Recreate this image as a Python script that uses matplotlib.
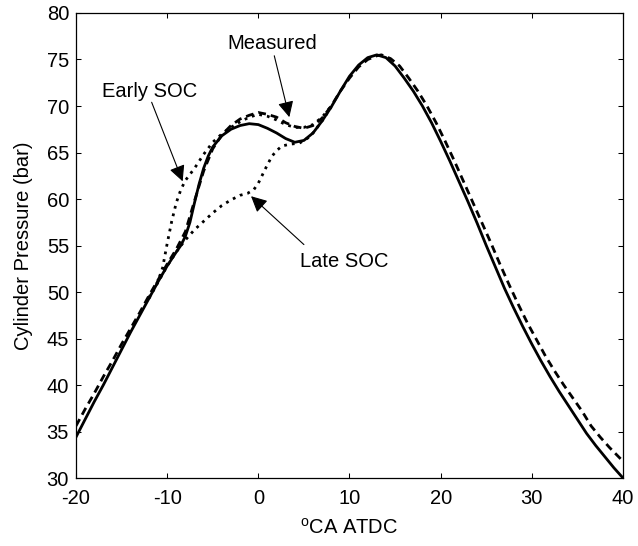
import matplotlib.pyplot as plt

plt.rcParams['font.family'] = ['Liberation Sans', 'DejaVu Sans']
plt.rcParams['mathtext.fontset'] = 'custom'
plt.rcParams['mathtext.rm'] = 'Liberation Sans'
plt.rcParams['axes.unicode_minus'] = False

# Model (solid)
ca_model = [-20, -19, -18, -17, -16, -15, -14, -13, -12, -11, -10, -9, -8.5, -8, -7.5, -7, -6.5, -6,
            -5.5, -5, -4, -3, -2, -1, 0, 1, 2, 3, 4, 5, 6, 7, 8, 9, 10, 11, 12, 13, 14, 15, 16, 17,
            18, 19, 20, 21, 22, 23, 24, 25, 26, 27, 28, 29, 30, 31, 32, 33, 34, 35, 36, 37, 38, 39, 40]
p_model = [34.4, 36.3, 38.2, 40.0, 41.9, 43.8, 45.7, 47.5, 49.3, 51.1, 52.8, 54.3, 55.0, 56.0, 57.5,
           59.6, 61.6, 63.3, 64.6, 65.6, 66.8, 67.5, 67.9, 68.1, 68.0, 67.6, 67.1, 66.5, 66.1, 66.3,
           67.1, 68.4, 69.9, 71.6, 73.2, 74.4, 75.2, 75.5, 75.2, 74.3, 73.0, 71.6, 70.0, 68.2, 66.2,
           64.1, 61.9, 59.7, 57.4, 55.0, 52.7, 50.4, 48.3, 46.3, 44.4, 42.6, 40.9, 39.3, 37.8, 36.3,
           34.8, 33.5, 32.3, 31.1, 30.0]

# Measured (dashed)
ca_meas = [-20, -19, -18, -17, -16, -15, -14, -13, -12, -11, -10, -9, -8, -7, -6, -5, -4, -3, -2,
           -1, 0, 1, 2, 3, 4, 5, 6, 7, 8, 9, 10, 11, 12, 13, 13.5, 14.5, 15.5, 16.5, 17.5, 18.5,
           19.5, 20.5, 21.5, 22.5, 23.5, 24.5, 25.5, 26.5, 27.5, 28.5, 29.5, 30.5, 31.5, 32.5,
           33.5, 34.5, 35.5, 36.5, 37.5, 38.5, 39.5, 40]
p_meas = [35.6, 37.4, 39.1, 40.9, 42.6, 44.4, 46.1, 47.8, 49.6, 51.3, 53.0, 54.6, 56.5, 59.8, 63.0,
          65.4, 66.9, 67.9, 68.6, 69.0, 69.3, 69.1, 68.8, 68.2, 67.8, 67.6, 67.9, 68.7, 70.0, 71.6,
          73.0, 74.2, 75.0, 75.4, 75.5, 75.1, 74.3, 73.0, 71.6, 70.0, 68.2, 66.2, 64.1, 61.9, 59.7,
          57.5, 55.3, 53.0, 50.8, 48.7, 46.7, 44.9, 43.1, 41.5, 40.0, 38.6, 37.2, 35.6, 34.4, 33.3,
          32.3, 31.8]

# Early SOC (dotted)
ca_early = [-12, -11, -10.5, -10, -9.5, -9, -8.5, -8, -7, -6, -5, -4, -3, -2, -1, 0, 1, 2, 3, 4,
            5, 6, 7, 8]
p_early = [49.4, 51.2, 52.6, 55.2, 57.6, 59.6, 61.0, 62.0, 63.3, 64.8, 66.1, 67.0, 67.7, 68.3,
           68.8, 69.1, 68.9, 68.5, 68.0, 67.7, 67.7, 68.0, 68.8, 70.0]

# Late SOC (dotted)
ca_late = [-12, -10, -9, -8.4, -8, -7, -6, -5, -4, -3, -2, -1.2, -0.5, 0, 0.5, 1, 1.5, 2, 2.6,
           3.5, 4.5, 5.5, 6, 7, 8]
p_late = [49.3, 52.8, 54.3, 55.1, 55.6, 56.7, 57.6, 58.5, 59.3, 59.9, 60.4, 60.6, 61.0, 61.7,
          62.7, 63.7, 64.6, 65.2, 65.7, 65.9, 66.0, 66.6, 67.1, 68.4, 69.9]

fig = plt.figure(figsize=(6.38, 5.46), dpi=100)
ax = fig.add_axes([0.1191, 0.1245, 0.8574, 0.8517])

ax.plot(ca_early, p_early, color='k', lw=2, linestyle=(0, (1, 1.8)))
ax.plot(ca_late, p_late, color='k', lw=2, linestyle=(0, (1, 1.8)))
ax.plot(ca_model, p_model, color='k', lw=2, linestyle='-')
ax.plot(ca_meas, p_meas, color='k', lw=2, linestyle=(0, (2.8, 1.8)))

ax.set_xlim(-20, 40)
ax.set_ylim(30, 80)
ax.set_xticks(range(-20, 41, 10))
ax.set_yticks(range(30, 81, 5))
ax.tick_params(direction='in', top=True, right=True, length=3.6, width=0.75, labelsize=14.5)
ax.tick_params(axis='x', pad=8)
ax.tick_params(axis='y', pad=5)
for s in ax.spines.values():
    s.set_linewidth(0.9)

ax.set_xlabel(r'$^{\mathrm{o}}$CA ATDC', fontsize=14.5, labelpad=7)
ax.set_ylabel('Cylinder Pressure (bar)', fontsize=14.5, labelpad=10)

arrow = dict(arrowstyle='-|>', mutation_scale=24, color='k', lw=0.8, shrinkA=0, shrinkB=0)
ax.text(1.5, 76.7, 'Measured', fontsize=14.5, ha='center', va='center')
ax.annotate('', xy=(3.4, 68.8), xytext=(1.75, 75.4), arrowprops=arrow)
ax.text(-11.9, 71.6, 'Early SOC', fontsize=14.5, ha='center', va='center')
ax.annotate('', xy=(-8.3, 61.9), xytext=(-11.7, 70.4), arrowprops=arrow)
ax.text(9.4, 53.3, 'Late SOC', fontsize=14.5, ha='center', va='center')
ax.annotate('', xy=(-0.8, 60.3), xytext=(5.0, 55.1), arrowprops=arrow)

fig.savefig('out.png', dpi=100)
